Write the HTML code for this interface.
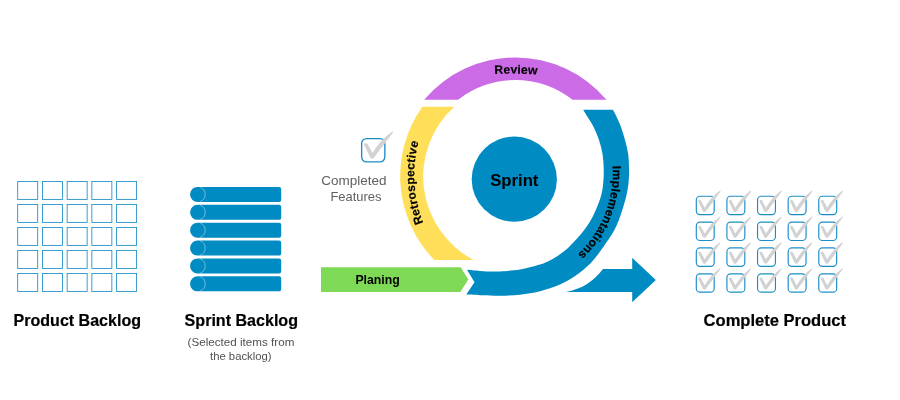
<!DOCTYPE html>
<html lang="en">
<head>
<meta charset="utf-8">
<title>Sprint cycle</title>
<style>
html,body{margin:0;padding:0;background:#fff;}
body{width:900px;height:400px;overflow:hidden;font-family:"Liberation Sans",sans-serif;}
svg{display:block;will-change:transform;}
svg text{font-family:"Liberation Sans",sans-serif;}
</style>
</head>
<body>
<svg width="900" height="400" viewBox="0 0 900 400">
<rect width="900" height="400" fill="#ffffff"/>
<g fill="none" stroke="#1A8DC5" stroke-width="0.85"><rect x="17.70" y="181.50" width="20" height="17.9"/><rect x="42.42" y="181.50" width="20" height="17.9"/><rect x="67.14" y="181.50" width="20" height="17.9"/><rect x="91.86" y="181.50" width="20" height="17.9"/><rect x="116.58" y="181.50" width="20" height="17.9"/><rect x="17.70" y="204.50" width="20" height="17.9"/><rect x="42.42" y="204.50" width="20" height="17.9"/><rect x="67.14" y="204.50" width="20" height="17.9"/><rect x="91.86" y="204.50" width="20" height="17.9"/><rect x="116.58" y="204.50" width="20" height="17.9"/><rect x="17.70" y="227.50" width="20" height="17.9"/><rect x="42.42" y="227.50" width="20" height="17.9"/><rect x="67.14" y="227.50" width="20" height="17.9"/><rect x="91.86" y="227.50" width="20" height="17.9"/><rect x="116.58" y="227.50" width="20" height="17.9"/><rect x="17.70" y="250.50" width="20" height="17.9"/><rect x="42.42" y="250.50" width="20" height="17.9"/><rect x="67.14" y="250.50" width="20" height="17.9"/><rect x="91.86" y="250.50" width="20" height="17.9"/><rect x="116.58" y="250.50" width="20" height="17.9"/><rect x="17.70" y="273.50" width="20" height="17.9"/><rect x="42.42" y="273.50" width="20" height="17.9"/><rect x="67.14" y="273.50" width="20" height="17.9"/><rect x="91.86" y="273.50" width="20" height="17.9"/><rect x="116.58" y="273.50" width="20" height="17.9"/></g>
<path d="M197.6,186.90 H279 a2.2,2.2 0 0 1 2.2,2.2 V199.80 a2.2,2.2 0 0 1 -2.2,2.2 H197.6 a7.55,7.55 0 0 1 0,-15.1 Z" fill="#018BC3"/><path d="M200.2,187.25 A7.7,7.7 0 0 1 200.2,201.65" fill="none" stroke="#ffffff" stroke-opacity="0.6" stroke-width="0.7"/><path d="M197.6,204.77 H279 a2.2,2.2 0 0 1 2.2,2.2 V217.67 a2.2,2.2 0 0 1 -2.2,2.2 H197.6 a7.55,7.55 0 0 1 0,-15.1 Z" fill="#018BC3"/><path d="M200.2,205.12 A7.7,7.7 0 0 1 200.2,219.52" fill="none" stroke="#ffffff" stroke-opacity="0.6" stroke-width="0.7"/><path d="M197.6,222.64 H279 a2.2,2.2 0 0 1 2.2,2.2 V235.54 a2.2,2.2 0 0 1 -2.2,2.2 H197.6 a7.55,7.55 0 0 1 0,-15.1 Z" fill="#018BC3"/><path d="M200.2,222.99 A7.7,7.7 0 0 1 200.2,237.39" fill="none" stroke="#ffffff" stroke-opacity="0.6" stroke-width="0.7"/><path d="M197.6,240.51 H279 a2.2,2.2 0 0 1 2.2,2.2 V253.41 a2.2,2.2 0 0 1 -2.2,2.2 H197.6 a7.55,7.55 0 0 1 0,-15.1 Z" fill="#018BC3"/><path d="M200.2,240.86 A7.7,7.7 0 0 1 200.2,255.26" fill="none" stroke="#ffffff" stroke-opacity="0.6" stroke-width="0.7"/><path d="M197.6,258.38 H279 a2.2,2.2 0 0 1 2.2,2.2 V271.28 a2.2,2.2 0 0 1 -2.2,2.2 H197.6 a7.55,7.55 0 0 1 0,-15.1 Z" fill="#018BC3"/><path d="M200.2,258.73 A7.7,7.7 0 0 1 200.2,273.13" fill="none" stroke="#ffffff" stroke-opacity="0.6" stroke-width="0.7"/><path d="M197.6,276.25 H279 a2.2,2.2 0 0 1 2.2,2.2 V289.15 a2.2,2.2 0 0 1 -2.2,2.2 H197.6 a7.55,7.55 0 0 1 0,-15.1 Z" fill="#018BC3"/><path d="M200.2,276.60 A7.7,7.7 0 0 1 200.2,291.00" fill="none" stroke="#ffffff" stroke-opacity="0.6" stroke-width="0.7"/>
<g transform="translate(361.00,138.00) scale(1.0000,1.0000)"><rect x="0.65" y="0.65" width="23.2" height="23.2" rx="4.8" fill="none" stroke="#1C8EC6" stroke-width="1.35"/><path d="M3.2,6.6 C3.2,5.6 4.2,5.2 5.2,5.4 C6,5.5 6.6,5.8 7,6.6 L11.5,15 C15.5,8.5 22,0 31,-6.2 C31.8,-6.6 32.4,-5.8 31.8,-5.2 C26.3,2.3 19.4,10.8 13.2,19.6 C12.4,21 10,21 9.2,19.6 L3.4,7.6 C3.3,7.3 3.2,7 3.2,6.6 Z" fill="#D2D2D2"/></g>
<g transform="translate(695.80,195.75) scale(0.7714,0.7918)"><rect x="0.65" y="0.65" width="23.2" height="23.2" rx="4.8" fill="none" stroke="#1C8EC6" stroke-width="1.5"/><path d="M3.2,6.6 C3.2,5.6 4.2,5.2 5.2,5.4 C6,5.5 6.6,5.8 7,6.6 L11.5,15 C15.5,8.5 22,0 31,-6.2 C31.8,-6.6 32.4,-5.8 31.8,-5.2 C26.3,2.3 19.4,10.8 13.2,19.6 C12.4,21 10,21 9.2,19.6 L3.4,7.6 C3.3,7.3 3.2,7 3.2,6.6 Z" fill="#D2D2D2"/></g>
<g transform="translate(726.42,195.75) scale(0.7714,0.7918)"><rect x="0.65" y="0.65" width="23.2" height="23.2" rx="4.8" fill="none" stroke="#1C8EC6" stroke-width="1.5"/><path d="M3.2,6.6 C3.2,5.6 4.2,5.2 5.2,5.4 C6,5.5 6.6,5.8 7,6.6 L11.5,15 C15.5,8.5 22,0 31,-6.2 C31.8,-6.6 32.4,-5.8 31.8,-5.2 C26.3,2.3 19.4,10.8 13.2,19.6 C12.4,21 10,21 9.2,19.6 L3.4,7.6 C3.3,7.3 3.2,7 3.2,6.6 Z" fill="#D2D2D2"/></g>
<g transform="translate(757.04,195.75) scale(0.7714,0.7918)"><rect x="0.65" y="0.65" width="23.2" height="23.2" rx="4.8" fill="none" stroke="#1C8EC6" stroke-width="1.5"/><path d="M3.2,6.6 C3.2,5.6 4.2,5.2 5.2,5.4 C6,5.5 6.6,5.8 7,6.6 L11.5,15 C15.5,8.5 22,0 31,-6.2 C31.8,-6.6 32.4,-5.8 31.8,-5.2 C26.3,2.3 19.4,10.8 13.2,19.6 C12.4,21 10,21 9.2,19.6 L3.4,7.6 C3.3,7.3 3.2,7 3.2,6.6 Z" fill="#D2D2D2"/></g>
<g transform="translate(787.66,195.75) scale(0.7714,0.7918)"><rect x="0.65" y="0.65" width="23.2" height="23.2" rx="4.8" fill="none" stroke="#1C8EC6" stroke-width="1.5"/><path d="M3.2,6.6 C3.2,5.6 4.2,5.2 5.2,5.4 C6,5.5 6.6,5.8 7,6.6 L11.5,15 C15.5,8.5 22,0 31,-6.2 C31.8,-6.6 32.4,-5.8 31.8,-5.2 C26.3,2.3 19.4,10.8 13.2,19.6 C12.4,21 10,21 9.2,19.6 L3.4,7.6 C3.3,7.3 3.2,7 3.2,6.6 Z" fill="#D2D2D2"/></g>
<g transform="translate(818.28,195.75) scale(0.7714,0.7918)"><rect x="0.65" y="0.65" width="23.2" height="23.2" rx="4.8" fill="none" stroke="#1C8EC6" stroke-width="1.5"/><path d="M3.2,6.6 C3.2,5.6 4.2,5.2 5.2,5.4 C6,5.5 6.6,5.8 7,6.6 L11.5,15 C15.5,8.5 22,0 31,-6.2 C31.8,-6.6 32.4,-5.8 31.8,-5.2 C26.3,2.3 19.4,10.8 13.2,19.6 C12.4,21 10,21 9.2,19.6 L3.4,7.6 C3.3,7.3 3.2,7 3.2,6.6 Z" fill="#D2D2D2"/></g>
<g transform="translate(695.80,221.60) scale(0.7714,0.7918)"><rect x="0.65" y="0.65" width="23.2" height="23.2" rx="4.8" fill="none" stroke="#1C8EC6" stroke-width="1.5"/><path d="M3.2,6.6 C3.2,5.6 4.2,5.2 5.2,5.4 C6,5.5 6.6,5.8 7,6.6 L11.5,15 C15.5,8.5 22,0 31,-6.2 C31.8,-6.6 32.4,-5.8 31.8,-5.2 C26.3,2.3 19.4,10.8 13.2,19.6 C12.4,21 10,21 9.2,19.6 L3.4,7.6 C3.3,7.3 3.2,7 3.2,6.6 Z" fill="#D2D2D2"/></g>
<g transform="translate(726.42,221.60) scale(0.7714,0.7918)"><rect x="0.65" y="0.65" width="23.2" height="23.2" rx="4.8" fill="none" stroke="#1C8EC6" stroke-width="1.5"/><path d="M3.2,6.6 C3.2,5.6 4.2,5.2 5.2,5.4 C6,5.5 6.6,5.8 7,6.6 L11.5,15 C15.5,8.5 22,0 31,-6.2 C31.8,-6.6 32.4,-5.8 31.8,-5.2 C26.3,2.3 19.4,10.8 13.2,19.6 C12.4,21 10,21 9.2,19.6 L3.4,7.6 C3.3,7.3 3.2,7 3.2,6.6 Z" fill="#D2D2D2"/></g>
<g transform="translate(757.04,221.60) scale(0.7714,0.7918)"><rect x="0.65" y="0.65" width="23.2" height="23.2" rx="4.8" fill="none" stroke="#1C8EC6" stroke-width="1.5"/><path d="M3.2,6.6 C3.2,5.6 4.2,5.2 5.2,5.4 C6,5.5 6.6,5.8 7,6.6 L11.5,15 C15.5,8.5 22,0 31,-6.2 C31.8,-6.6 32.4,-5.8 31.8,-5.2 C26.3,2.3 19.4,10.8 13.2,19.6 C12.4,21 10,21 9.2,19.6 L3.4,7.6 C3.3,7.3 3.2,7 3.2,6.6 Z" fill="#D2D2D2"/></g>
<g transform="translate(787.66,221.60) scale(0.7714,0.7918)"><rect x="0.65" y="0.65" width="23.2" height="23.2" rx="4.8" fill="none" stroke="#1C8EC6" stroke-width="1.5"/><path d="M3.2,6.6 C3.2,5.6 4.2,5.2 5.2,5.4 C6,5.5 6.6,5.8 7,6.6 L11.5,15 C15.5,8.5 22,0 31,-6.2 C31.8,-6.6 32.4,-5.8 31.8,-5.2 C26.3,2.3 19.4,10.8 13.2,19.6 C12.4,21 10,21 9.2,19.6 L3.4,7.6 C3.3,7.3 3.2,7 3.2,6.6 Z" fill="#D2D2D2"/></g>
<g transform="translate(818.28,221.60) scale(0.7714,0.7918)"><rect x="0.65" y="0.65" width="23.2" height="23.2" rx="4.8" fill="none" stroke="#1C8EC6" stroke-width="1.5"/><path d="M3.2,6.6 C3.2,5.6 4.2,5.2 5.2,5.4 C6,5.5 6.6,5.8 7,6.6 L11.5,15 C15.5,8.5 22,0 31,-6.2 C31.8,-6.6 32.4,-5.8 31.8,-5.2 C26.3,2.3 19.4,10.8 13.2,19.6 C12.4,21 10,21 9.2,19.6 L3.4,7.6 C3.3,7.3 3.2,7 3.2,6.6 Z" fill="#D2D2D2"/></g>
<g transform="translate(695.80,247.45) scale(0.7714,0.7918)"><rect x="0.65" y="0.65" width="23.2" height="23.2" rx="4.8" fill="none" stroke="#1C8EC6" stroke-width="1.5"/><path d="M3.2,6.6 C3.2,5.6 4.2,5.2 5.2,5.4 C6,5.5 6.6,5.8 7,6.6 L11.5,15 C15.5,8.5 22,0 31,-6.2 C31.8,-6.6 32.4,-5.8 31.8,-5.2 C26.3,2.3 19.4,10.8 13.2,19.6 C12.4,21 10,21 9.2,19.6 L3.4,7.6 C3.3,7.3 3.2,7 3.2,6.6 Z" fill="#D2D2D2"/></g>
<g transform="translate(726.42,247.45) scale(0.7714,0.7918)"><rect x="0.65" y="0.65" width="23.2" height="23.2" rx="4.8" fill="none" stroke="#1C8EC6" stroke-width="1.5"/><path d="M3.2,6.6 C3.2,5.6 4.2,5.2 5.2,5.4 C6,5.5 6.6,5.8 7,6.6 L11.5,15 C15.5,8.5 22,0 31,-6.2 C31.8,-6.6 32.4,-5.8 31.8,-5.2 C26.3,2.3 19.4,10.8 13.2,19.6 C12.4,21 10,21 9.2,19.6 L3.4,7.6 C3.3,7.3 3.2,7 3.2,6.6 Z" fill="#D2D2D2"/></g>
<g transform="translate(757.04,247.45) scale(0.7714,0.7918)"><rect x="0.65" y="0.65" width="23.2" height="23.2" rx="4.8" fill="none" stroke="#1C8EC6" stroke-width="1.5"/><path d="M3.2,6.6 C3.2,5.6 4.2,5.2 5.2,5.4 C6,5.5 6.6,5.8 7,6.6 L11.5,15 C15.5,8.5 22,0 31,-6.2 C31.8,-6.6 32.4,-5.8 31.8,-5.2 C26.3,2.3 19.4,10.8 13.2,19.6 C12.4,21 10,21 9.2,19.6 L3.4,7.6 C3.3,7.3 3.2,7 3.2,6.6 Z" fill="#D2D2D2"/></g>
<g transform="translate(787.66,247.45) scale(0.7714,0.7918)"><rect x="0.65" y="0.65" width="23.2" height="23.2" rx="4.8" fill="none" stroke="#1C8EC6" stroke-width="1.5"/><path d="M3.2,6.6 C3.2,5.6 4.2,5.2 5.2,5.4 C6,5.5 6.6,5.8 7,6.6 L11.5,15 C15.5,8.5 22,0 31,-6.2 C31.8,-6.6 32.4,-5.8 31.8,-5.2 C26.3,2.3 19.4,10.8 13.2,19.6 C12.4,21 10,21 9.2,19.6 L3.4,7.6 C3.3,7.3 3.2,7 3.2,6.6 Z" fill="#D2D2D2"/></g>
<g transform="translate(818.28,247.45) scale(0.7714,0.7918)"><rect x="0.65" y="0.65" width="23.2" height="23.2" rx="4.8" fill="none" stroke="#1C8EC6" stroke-width="1.5"/><path d="M3.2,6.6 C3.2,5.6 4.2,5.2 5.2,5.4 C6,5.5 6.6,5.8 7,6.6 L11.5,15 C15.5,8.5 22,0 31,-6.2 C31.8,-6.6 32.4,-5.8 31.8,-5.2 C26.3,2.3 19.4,10.8 13.2,19.6 C12.4,21 10,21 9.2,19.6 L3.4,7.6 C3.3,7.3 3.2,7 3.2,6.6 Z" fill="#D2D2D2"/></g>
<g transform="translate(695.80,273.30) scale(0.7714,0.7918)"><rect x="0.65" y="0.65" width="23.2" height="23.2" rx="4.8" fill="none" stroke="#1C8EC6" stroke-width="1.5"/><path d="M3.2,6.6 C3.2,5.6 4.2,5.2 5.2,5.4 C6,5.5 6.6,5.8 7,6.6 L11.5,15 C15.5,8.5 22,0 31,-6.2 C31.8,-6.6 32.4,-5.8 31.8,-5.2 C26.3,2.3 19.4,10.8 13.2,19.6 C12.4,21 10,21 9.2,19.6 L3.4,7.6 C3.3,7.3 3.2,7 3.2,6.6 Z" fill="#D2D2D2"/></g>
<g transform="translate(726.42,273.30) scale(0.7714,0.7918)"><rect x="0.65" y="0.65" width="23.2" height="23.2" rx="4.8" fill="none" stroke="#1C8EC6" stroke-width="1.5"/><path d="M3.2,6.6 C3.2,5.6 4.2,5.2 5.2,5.4 C6,5.5 6.6,5.8 7,6.6 L11.5,15 C15.5,8.5 22,0 31,-6.2 C31.8,-6.6 32.4,-5.8 31.8,-5.2 C26.3,2.3 19.4,10.8 13.2,19.6 C12.4,21 10,21 9.2,19.6 L3.4,7.6 C3.3,7.3 3.2,7 3.2,6.6 Z" fill="#D2D2D2"/></g>
<g transform="translate(757.04,273.30) scale(0.7714,0.7918)"><rect x="0.65" y="0.65" width="23.2" height="23.2" rx="4.8" fill="none" stroke="#1C8EC6" stroke-width="1.5"/><path d="M3.2,6.6 C3.2,5.6 4.2,5.2 5.2,5.4 C6,5.5 6.6,5.8 7,6.6 L11.5,15 C15.5,8.5 22,0 31,-6.2 C31.8,-6.6 32.4,-5.8 31.8,-5.2 C26.3,2.3 19.4,10.8 13.2,19.6 C12.4,21 10,21 9.2,19.6 L3.4,7.6 C3.3,7.3 3.2,7 3.2,6.6 Z" fill="#D2D2D2"/></g>
<g transform="translate(787.66,273.30) scale(0.7714,0.7918)"><rect x="0.65" y="0.65" width="23.2" height="23.2" rx="4.8" fill="none" stroke="#1C8EC6" stroke-width="1.5"/><path d="M3.2,6.6 C3.2,5.6 4.2,5.2 5.2,5.4 C6,5.5 6.6,5.8 7,6.6 L11.5,15 C15.5,8.5 22,0 31,-6.2 C31.8,-6.6 32.4,-5.8 31.8,-5.2 C26.3,2.3 19.4,10.8 13.2,19.6 C12.4,21 10,21 9.2,19.6 L3.4,7.6 C3.3,7.3 3.2,7 3.2,6.6 Z" fill="#D2D2D2"/></g>
<g transform="translate(818.28,273.30) scale(0.7714,0.7918)"><rect x="0.65" y="0.65" width="23.2" height="23.2" rx="4.8" fill="none" stroke="#1C8EC6" stroke-width="1.5"/><path d="M3.2,6.6 C3.2,5.6 4.2,5.2 5.2,5.4 C6,5.5 6.6,5.8 7,6.6 L11.5,15 C15.5,8.5 22,0 31,-6.2 C31.8,-6.6 32.4,-5.8 31.8,-5.2 C26.3,2.3 19.4,10.8 13.2,19.6 C12.4,21 10,21 9.2,19.6 L3.4,7.6 C3.3,7.3 3.2,7 3.2,6.6 Z" fill="#D2D2D2"/></g>
<path fill="#CB6CE6" d="M424.08,99.8 A119.5,119.5 0 0 1 606.52,99.8 L572.46,99.8 A92.4,92.4 0 0 0 458.14,99.8 Z"/>
<path fill="#FFDE59" d="M434.35,260.0 A119.9,119.9 0 0 1 422.36,106.75 L454.25,106.75 A94.1,94.1 0 0 0 473.72,260.0 Z"/>
<path fill="#7ED957" d="M321,267.2 H460.7 L468.3,279.5 L460.3,292 H321 Z"/>
<path fill="#018BC3" d="M612.9,109.75 C613.45,110.79 614.92,113.29 616.20,116.00 C617.48,118.71 619.13,122.00 620.60,126.00 C622.07,130.00 623.73,135.33 625.00,140.00 C626.27,144.67 627.53,149.33 628.20,154.00 C628.87,158.67 628.93,163.33 629.00,168.00 C629.07,172.67 629.05,177.33 628.60,182.00 C628.15,186.67 627.57,190.67 626.30,196.00 C625.03,201.33 622.98,208.33 621.00,214.00 C619.02,219.67 617.23,224.67 614.40,230.00 C611.57,235.33 607.57,240.92 604.00,246.00 C600.43,251.08 597.00,256.10 593.00,260.50 C589.00,264.90 585.50,268.38 580.00,272.40 C574.50,276.42 566.67,281.47 560.00,284.60 C553.33,287.73 546.67,289.52 540.00,291.20 C533.33,292.88 526.67,293.93 520.00,294.70 C513.33,295.47 506.17,295.70 500.00,295.80 C493.83,295.90 488.62,295.52 483.00,295.30 C477.38,295.08 469.04,294.63 466.25,294.50 L474.5,282.25 L467,269.8 C469.17,269.98 475.75,270.62 480.00,270.90 C484.25,271.18 489.17,271.42 492.50,271.50 C495.83,271.58 495.42,271.73 500.00,271.40 C504.58,271.07 513.33,270.63 520.00,269.50 C526.67,268.37 534.88,266.18 540.00,264.60 C545.12,263.02 547.42,261.73 550.75,260.00 C554.08,258.27 556.79,256.53 560.00,254.20 C563.21,251.87 565.97,250.03 570.00,246.00 C574.03,241.97 580.20,235.33 584.20,230.00 C588.20,224.67 591.20,219.67 594.00,214.00 C596.80,208.33 599.45,201.33 601.00,196.00 C602.55,190.67 602.85,186.67 603.30,182.00 C603.75,177.33 603.83,172.67 603.70,168.00 C603.57,163.33 603.28,158.67 602.50,154.00 C601.72,149.33 600.57,144.67 599.00,140.00 C597.43,135.33 595.10,130.00 593.10,126.00 C591.10,122.00 588.65,118.71 587.00,116.00 C585.35,113.29 583.83,110.79 583.20,109.75 Z"/>
<path fill="#018BC3" d="M565.8,291.9 C582,289.2 594,281 603,269 H632.2 V257.8 L655.8,280.1 L632.2,302.3 V291.9 Z"/>
<circle cx="514.3" cy="179.2" r="42.6" fill="#018BC3"/>
<g>
<text x="77.3" y="326" text-anchor="middle" font-weight="700" font-size="16.3" fill="#000" stroke="#000" stroke-width="0.2" stroke-linejoin="round" textLength="127.4" lengthAdjust="spacingAndGlyphs">Product Backlog</text>
<text x="241.3" y="326" text-anchor="middle" font-weight="700" font-size="16.3" fill="#000" stroke="#000" stroke-width="0.2" stroke-linejoin="round" textLength="113.4" lengthAdjust="spacingAndGlyphs">Sprint Backlog</text>
<text x="774.8" y="326" text-anchor="middle" font-weight="700" font-size="16.3" fill="#000" stroke="#000" stroke-width="0.2" stroke-linejoin="round" textLength="142.4" lengthAdjust="spacingAndGlyphs">Complete Product</text>
<text x="241" y="346" text-anchor="middle" font-weight="400" font-size="11.2" fill="#515151" textLength="106.8" lengthAdjust="spacingAndGlyphs">(Selected items from</text>
<text x="240.8" y="360" text-anchor="middle" font-weight="400" font-size="11.2" fill="#515151" textLength="61.6" lengthAdjust="spacingAndGlyphs">the backlog)</text>
<text x="353.8" y="185" text-anchor="middle" font-weight="400" font-size="12.4" fill="#606060" textLength="65.2" lengthAdjust="spacingAndGlyphs">Completed</text>
<text x="356" y="201" text-anchor="middle" font-weight="400" font-size="12.4" fill="#606060" textLength="51.1" lengthAdjust="spacingAndGlyphs">Features</text>
<text x="514.3" y="185.5" text-anchor="middle" font-weight="700" font-size="15.9" fill="#000" textLength="48.2" lengthAdjust="spacingAndGlyphs">Sprint</text>
<text x="377.6" y="283.8" text-anchor="middle" font-weight="700" font-size="12" fill="#000" textLength="44.3" lengthAdjust="spacingAndGlyphs">Planing</text>
<path id="pRev" d="M254.18,220.21 A300,300 0 0 1 773.75,227.01" fill="none"/>
<text font-weight="700" font-size="12.2" letter-spacing="0.1" fill="#000" stroke="#000" stroke-width="0.18"><textPath href="#pRev" startOffset="50%" text-anchor="middle">Review</textPath></text>
<path id="pRet" d="M485.99,291.24 A130,130 0 0 1 472.64,66.47" fill="none"/>
<text font-weight="700" font-size="12" letter-spacing="0.27" fill="#000" stroke="#000" stroke-width="0.18"><textPath href="#pRet" startOffset="50%" text-anchor="middle">Retrospective</textPath></text>
<path id="pImp" d="M588.60,103.49 A111.9,111.9 0 0 1 517.25,283.70" fill="none"/>
<text font-weight="700" font-size="12" letter-spacing="0.2" fill="#000" stroke="#000" stroke-width="0.18"><textPath href="#pImp" startOffset="50%" text-anchor="middle">Implementations</textPath></text>
</g>
</svg>
</body>
</html>
